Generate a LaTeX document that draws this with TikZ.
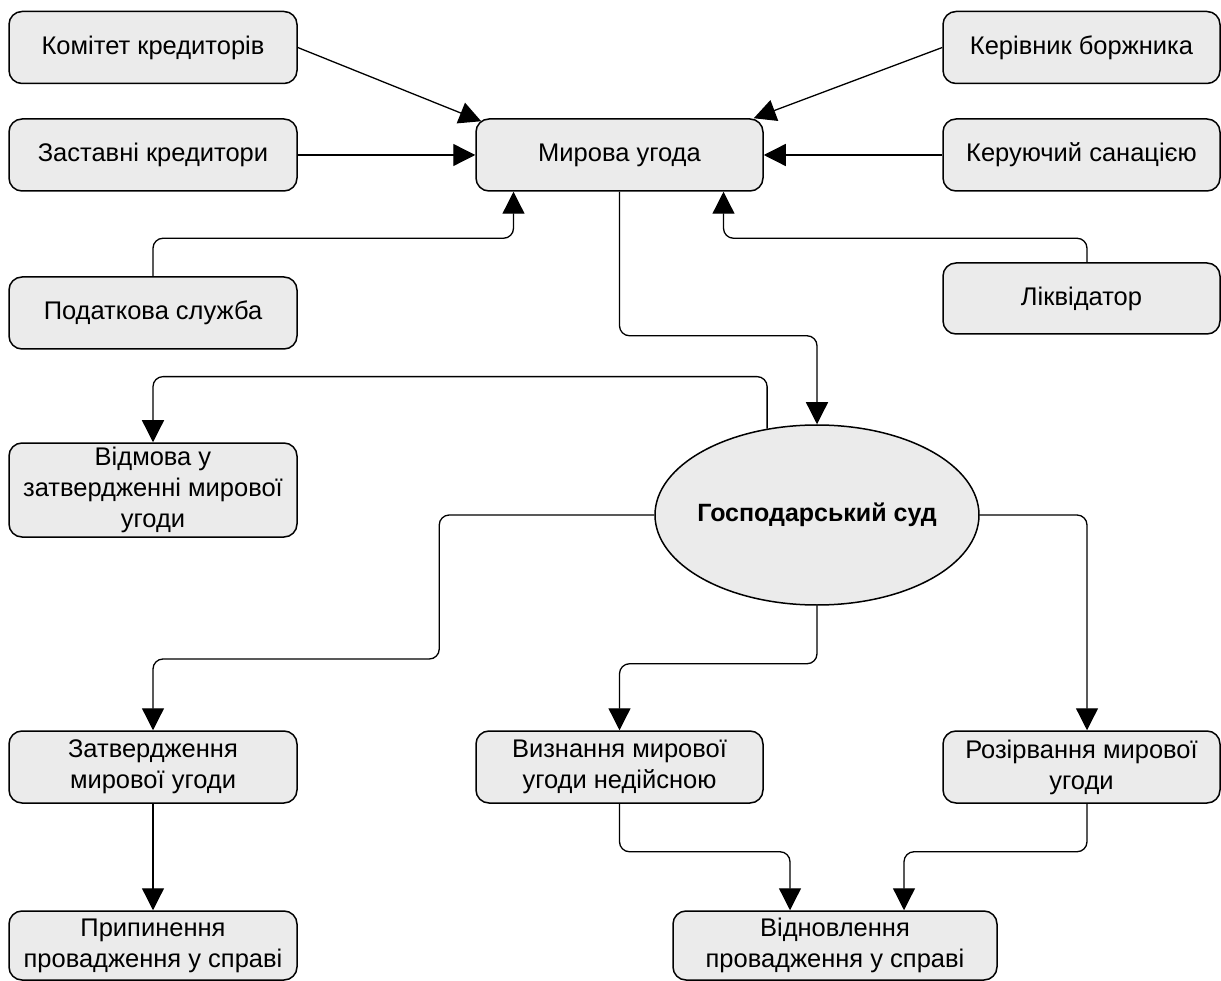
\documentclass[tikz,border=0pt]{standalone}
\usepackage{fontspec}
\setmainfont{Liberation Sans}
\usetikzlibrary{arrows.meta,shapes.geometric,calc}
\definecolor{boxfill}{HTML}{EBEBEB}
\tikzset{
  box/.style={draw=black, line width=1.5pt, fill=boxfill, rounded corners=13pt,
    minimum width=288pt, minimum height=72pt, inner sep=0pt, align=center,
    font=\fontsize{25.5}{31}\selectfont},
  rbox/.style={box, minimum width=277pt},
  court/.style={draw=black, line width=1.5pt, fill=boxfill, ellipse,
    minimum width=324pt, minimum height=180pt, inner sep=0pt,
    font=\fontsize{25}{30}\selectfont\bfseries},
  arr/.style={draw=black, line width=1.3pt, rounded corners=10pt,
    -{Triangle[length=22pt,width=22pt]}}
}
\begin{document}
\begin{tikzpicture}[x=1pt,y=-1pt]
\useasboundingbox (0,0) rectangle (1221,981);
% left column
\node[box] (kom)  at (153,47.5)  {Комітет кредиторів};
\node[box] (zast) at (153,155)   {Заставні кредитори};
\node[box] (pod)  at (153,313)   {Податкова служба};
% centre
\node[box, minimum width=287pt] (myr) at (619.5,155) {Мирова угода};
% right column
\node[rbox] (ker)  at (1081.5,47.5) {Керівник боржника};
\node[rbox] (keru) at (1081.5,155)  {Керуючий санацією};
\node[rbox, minimum height=71pt] (likv) at (1081.5,298.5) {Ліквідатор};
% court
\node[box, minimum height=94pt] (vidm) at (153,490) {Відмова у\\затвердженні мирової\\угоди};
\node[court] (sud) at (817,515) {\makebox[0pt]{Господарський суд}};
% outcomes
\node[box] (zatv)  at (153,767)    {Затвердження\\мирової угоди};
\node[box, minimum width=287pt] (vyzn) at (619.5,767) {Визнання мирової\\угоди недійсною};
\node[rbox] (rozir) at (1081.5,767) {Розірвання мирової\\угоди};
\node[box, minimum height=69pt] (prup) at (153,945.5) {Припинення\\провадження у справі};
\node[box, minimum width=324pt, minimum height=69pt] (vidn) at (835,945.5) {Відновлення\\провадження у справі};
% connectors into Мирова угода
\draw[arr] (kom.east) -- ([shift={(6,3)}]myr.north west);
\draw[arr] (zast.east) -- (myr.west);
\draw[arr] (pod.north) -- ++(0,-38) -| ([xshift=-106]myr.south);
\draw[arr] (ker.west) -- ([xshift=-10]myr.north east);
\draw[arr] (keru.west) -- (myr.east);
\draw[arr] ([xshift=5.5]likv.north) -- ++(0,-24) -| ([xshift=104]myr.south);
% Мирова угода -> суд
\draw[arr] (myr.south) -- ++(0,144) -| (sud.north);
% court outputs
\draw[arr] (sud.120.8) -- ++(0,-52) -| (vidm.north);
\draw[arr] (sud.west) -- ++(-215,0) -- ++(0,144) -| (zatv.north);
\draw[arr] (sud.south) -- ++(0,58) -| (vyzn.north);
\draw[arr] (sud.east) -| ([xshift=5.5]rozir.north);
% final
\draw[arr] (zatv.south) -- (prup.north);
\draw[arr] (vyzn.south) -- ++(0,48) -| ([xshift=-45]vidn.north);
\draw[arr] ([xshift=5.5]rozir.south) -- ++(0,48) -| ([xshift=69]vidn.north);
\end{tikzpicture}
\end{document}
